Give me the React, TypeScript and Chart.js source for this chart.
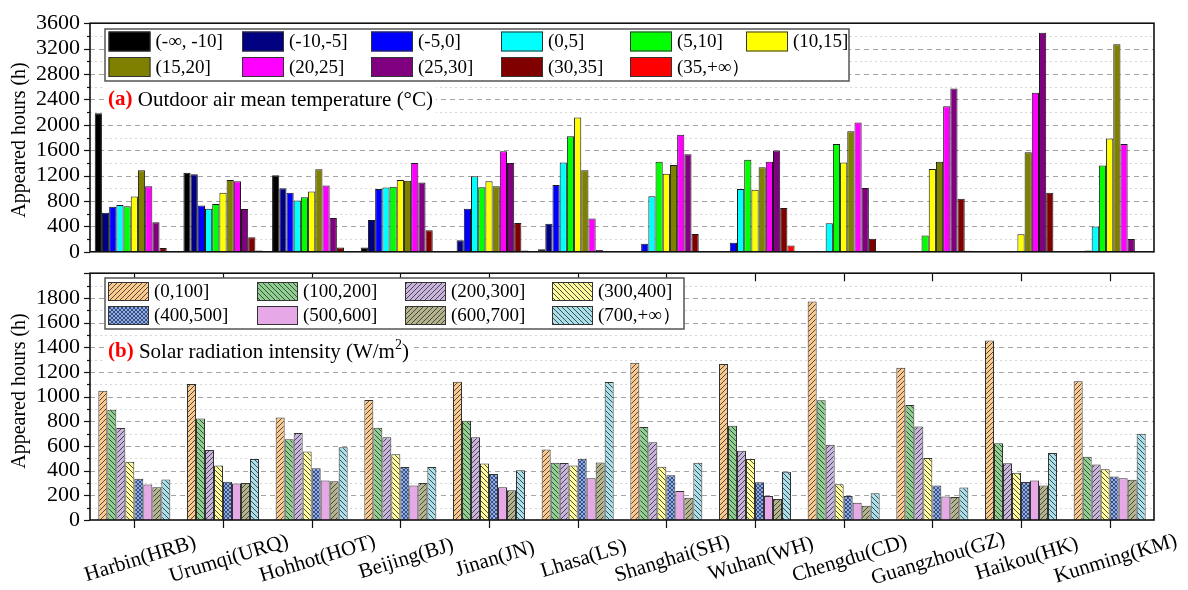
import React, { useEffect, useRef } from 'react';
import { Chart, registerables } from 'chart.js';

Chart.register(...registerables);

const SERIF = "'Liberation Serif', 'Times New Roman', serif";

// ---------------- data ----------------
const cities = [
  'Harbin(HRB)', 'Urumqi(URQ)', 'Hohhot(HOT)', 'Beijing(BJ)', 'Jinan(JN)', 'Lhasa(LS)',
  'Shanghai(SH)', 'Wuhan(WH)', 'Chengdu(CD)', 'Guangzhou(GZ)', 'Haikou(HK)', 'Kunming(KM)',
];

const tempBins = ['(-∞, -10]', '(-10,-5]', '(-5,0]', '(0,5]', '(5,10]', '(10,15]', '(15,20]', '(20,25]', '(25,30]', '(30,35]', '(35,+∞）'];
const tempColors = ['#000000', '#000080', '#0000FF', '#00FFFF', '#00FF00', '#FFFF00', '#808000', '#FF00FF', '#800080', '#800000', '#FF0000'];

const tBelowM10 = [2180, 1245, 1205, 69, 5, 39, 0, 0, 0, 0, 0, 0];
const tM10toM5 = [615, 1220, 999, 502, 182, 443, 0, 0, 0, 0, 0, 0];
const tM5to0 = [708, 728, 930, 989, 679, 1053, 128, 143, 10, 0, 0, 20];
const t0to5 = [738, 679, 807, 1013, 1191, 1407, 876, 989, 448, 0, 0, 398];
const t5to10 = [718, 753, 861, 1023, 1018, 1820, 1417, 1451, 1697, 256, 0, 1358];
const t10to15 = [871, 930, 950, 1132, 1112, 2116, 1230, 979, 1407, 1304, 276, 1786];
const t15to20 = [1284, 1132, 1299, 1117, 1033, 1284, 1368, 1333, 1899, 1417, 1569, 3267];
const t20to25 = [1033, 1112, 1043, 1397, 1584, 526, 1845, 1417, 2037, 2293, 2504, 1697];
const t25to30 = [467, 674, 531, 1092, 1397, 30, 1535, 1594, 1004, 2573, 3449, 202];
const t30to35 = [59, 231, 69, 339, 453, 0, 280, 689, 207, 836, 930, 0];
const tAbove35 = [0, 20, 0, 10, 20, 0, 10, 98, 0, 15, 0, 0];
const tempSeries = [tBelowM10, tM10toM5, tM5to0, t0to5, t5to10, t10to15, t15to20, t20to25, t25to30, t30to35, tAbove35];

const solarBins = ['(0,100]', '(100,200]', '(200,300]', '(300,400]', '(400,500]', '(500,600]', '(600,700]', '(700,+∞）'];
const solarColors = ['#FAC98B', '#8ED08E', '#C8B4DC', '#FFFA9A', '#8CAEEA', '#E6A8E6', '#B4B48C', '#A8E0EC'];
const solarHatch = ['f', 'b', 'f', 'b', 'x', 'n', 'f', 'b'];

const s0to100 = [1048, 1102, 830, 973, 1120, 572, 1275, 1265, 1770, 1234, 1454, 1125];
const s100to200 = [893, 823, 655, 748, 805, 463, 753, 763, 970, 931, 621, 512];
const s200to300 = [745, 567, 705, 670, 670, 461, 631, 561, 610, 758, 460, 450];
const s300to400 = [473, 442, 555, 533, 458, 442, 432, 494, 290, 502, 383, 411];
const s400to500 = [334, 310, 420, 429, 373, 497, 362, 305, 194, 279, 308, 352];
const s500to600 = [287, 295, 320, 279, 266, 339, 235, 194, 140, 191, 321, 339];
const s600to700 = [266, 300, 315, 300, 241, 466, 181, 171, 116, 186, 279, 326];
const s700up = [329, 494, 590, 429, 404, 1118, 463, 391, 217, 264, 543, 698];
const solarSeries = [s0to100, s100to200, s200to300, s300to400, s400to500, s500to600, s600to700, s700up];

const tempTicks = [0, 400, 800, 1200, 1600, 2000, 2400, 2800, 3200, 3600];
const solarTicks = [0, 200, 400, 600, 800, 1000, 1200, 1400, 1600, 1800];

const yTitle = 'Appeared hours (h)';

// ---------------- helpers ----------------
function makePattern(ctx: CanvasRenderingContext2D, bg: string, kind: string): any {
  if (kind === 'n') return bg;
  const s = kind === 'x' ? 4 : 5;
  const c = document.createElement('canvas');
  c.width = s;
  c.height = s;
  const g = c.getContext('2d')!;
  g.fillStyle = bg;
  g.fillRect(0, 0, s, s);
  g.strokeStyle = kind === 'x' ? '#2a3560' : '#3a3a3a';
  g.lineWidth = kind === 'x' ? 0.8 : 0.9;
  g.beginPath();
  if (kind === 'f' || kind === 'x') {
    g.moveTo(-1, s + 1); g.lineTo(s + 1, -1);
    g.moveTo(-1, 1); g.lineTo(1, -1);
    g.moveTo(s - 1, s + 1); g.lineTo(s + 1, s - 1);
  }
  if (kind === 'b' || kind === 'x') {
    g.moveTo(-1, -1); g.lineTo(s + 1, s + 1);
    g.moveTo(s - 1, -1); g.lineTo(s + 1, 1);
    g.moveTo(-1, s - 1); g.lineTo(1, s + 1);
  }
  g.stroke();
  return ctx.createPattern(c, 'repeat') || bg;
}

type LegendCfg = {
  box: [number, number, number, number];
  cols: number[];
  rows: number[];
  sw: number;
  sh: number;
  labels: string[];
  fills: any[];
};

function drawLegend(ctx: CanvasRenderingContext2D, L: LegendCfg) {
  ctx.save();
  const [bx, by, bw, bh] = L.box;
  ctx.fillStyle = '#ffffff';
  ctx.fillRect(bx, by, bw, bh);
  ctx.strokeStyle = '#555';
  ctx.lineWidth = 1.5;
  ctx.setLineDash([]);
  ctx.strokeRect(bx, by, bw, bh);
  ctx.font = `19px ${SERIF}`;
  ctx.textBaseline = 'middle';
  ctx.textAlign = 'left';
  L.labels.forEach((lab, i) => {
    const r = Math.floor(i / L.cols.length);
    const c = i % L.cols.length;
    const x = L.cols[c];
    const y = L.rows[r];
    ctx.fillStyle = L.fills[i];
    ctx.fillRect(x, y, L.sw, L.sh);
    ctx.strokeStyle = '#333';
    ctx.lineWidth = 1;
    ctx.strokeRect(x + 0.5, y + 0.5, L.sw - 1, L.sh - 1);
    ctx.fillStyle = '#000';
    ctx.fillText(lab, x + L.sw + 5, y + L.sh / 2 + 1);
  });
  ctx.restore();
}

function drawPanelTitle(ctx: CanvasRenderingContext2D, x: number, cy: number, tag: string, rest: string, sup: string, tail: string) {
  ctx.save();
  ctx.textBaseline = 'middle';
  ctx.textAlign = 'left';
  ctx.font = `bold 21px ${SERIF}`;
  const w1 = ctx.measureText(tag).width;
  ctx.font = `21px ${SERIF}`;
  const w2 = ctx.measureText(rest).width;
  ctx.font = `14px ${SERIF}`;
  const w3 = sup ? ctx.measureText(sup).width : 0;
  ctx.font = `21px ${SERIF}`;
  const w4 = tail ? ctx.measureText(tail).width : 0;
  ctx.fillStyle = '#fff';
  ctx.fillRect(x - 3, cy - 13, w1 + w2 + w3 + w4 + 6, 26);
  ctx.fillStyle = '#FF0000';
  ctx.font = `bold 21px ${SERIF}`;
  ctx.fillText(tag, x, cy);
  ctx.fillStyle = '#000';
  ctx.font = `21px ${SERIF}`;
  ctx.fillText(rest, x + w1, cy);
  if (sup) {
    ctx.font = `14px ${SERIF}`;
    ctx.fillText(sup, x + w1 + w2, cy - 7);
    ctx.font = `21px ${SERIF}`;
    ctx.fillText(tail, x + w1 + w2 + w3, cy);
  }
  ctx.restore();
}

type DecorCfg = {
  name: string;
  minor: number;
  major: number;
  max: number;
  titleY: number;
  panel: (ctx: CanvasRenderingContext2D) => void;
  legend: () => LegendCfg;
  bottomAxis: boolean;
};

function decorPlugin(cfg: DecorCfg) {
  return {
    id: 'decor_' + cfg.name,
    beforeDatasetsDraw(chart: any) {
      const { ctx, chartArea: a, scales } = chart;
      const ys = scales.y;
      ctx.save();
      ctx.lineWidth = 1;
      for (let v = cfg.minor; v < cfg.max; v += cfg.minor) {
        const py = Math.round(ys.getPixelForValue(v)) + 0.5;
        const isMajor = v % cfg.major === 0;
        ctx.strokeStyle = isMajor ? '#a4a4a4' : '#d6d6d6';
        ctx.setLineDash(isMajor ? [5, 4] : [2, 3]);
        ctx.beginPath();
        ctx.moveTo(a.left, py);
        ctx.lineTo(a.right, py);
        ctx.stroke();
      }
      ctx.restore();
    },
    afterDraw(chart: any) {
      const { ctx, chartArea: a, scales } = chart;
      const ys = scales.y;
      const xs = scales.x;
      ctx.save();
      // y tick marks
      ctx.strokeStyle = '#111';
      ctx.lineWidth = 1.2;
      ctx.setLineDash([]);
      for (let v = 0; v <= cfg.max; v += cfg.minor) {
        const py = Math.round(ys.getPixelForValue(v)) + 0.5;
        const len = v % cfg.major === 0 ? 6 : 3;
        ctx.beginPath();
        ctx.moveTo(a.left - len, py);
        ctx.lineTo(a.left, py);
        ctx.stroke();
      }
      // x tick marks + category labels
      if (cfg.bottomAxis) {
        for (let i = 0; i < cities.length; i++) {
          const px = Math.round(xs.getPixelForValue(i)) + 0.5;
          ctx.beginPath();
          ctx.moveTo(px, a.top);
          ctx.lineTo(px, a.top + 8);
          ctx.moveTo(px, a.bottom);
          ctx.lineTo(px, a.bottom + 8);
          ctx.stroke();
        }
        ctx.fillStyle = '#000';
        ctx.font = `21px ${SERIF}`;
        ctx.textAlign = 'center';
        ctx.textBaseline = 'middle';
        cities.forEach((c, i) => {
          const px = xs.getPixelForValue(i);
          ctx.save();
          ctx.translate(px + 6, a.bottom + 39);
          ctx.rotate((-17 * Math.PI) / 180);
          ctx.fillText(c, 0, 0);
          ctx.restore();
        });
      }
      // frame
      ctx.strokeStyle = '#111';
      ctx.lineWidth = 1.6;
      ctx.strokeRect(a.left, a.top, a.right - a.left, a.bottom - a.top);
      // axis title
      ctx.fillStyle = '#000';
      ctx.font = `20px ${SERIF}`;
      ctx.textAlign = 'center';
      ctx.textBaseline = 'middle';
      ctx.save();
      ctx.translate(20, cfg.titleY);
      ctx.rotate(-Math.PI / 2);
      ctx.fillText(yTitle, 0, 0);
      ctx.restore();
      ctx.restore();
      cfg.panel(ctx);
      drawLegend(ctx, cfg.legend());
    },
  };
}

export default function App() {
  const topRef = useRef<HTMLCanvasElement>(null);
  const botRef = useRef<HTMLCanvasElement>(null);

  useEffect(() => {
    Chart.defaults.font.family = SERIF;
    const tickFont = { family: SERIF, size: 22 };
    const plainNum = (v: any) => String(v);

    const top = new Chart(topRef.current!, {
      type: 'bar',
      data: {
        labels: cities,
        datasets: tempSeries.map((d, i) => ({
          label: tempBins[i],
          data: d,
          backgroundColor: tempColors[i],
          borderColor: '#1a1a1a',
          borderWidth: 1,
          barPercentage: 1,
          categoryPercentage: 0.893,
        })),
      },
      options: {
        responsive: false,
        maintainAspectRatio: false,
        animation: false,
        devicePixelRatio: 1,
        events: [],
        layout: { padding: { top: 18, right: 34, left: 0, bottom: 0 } },
        plugins: { legend: { display: false }, tooltip: { enabled: false } },
        scales: {
          x: {
            ticks: { display: false },
            grid: { display: false, drawTicks: false },
            border: { display: false },
            afterFit: (s: any) => { s.height = 13; },
          },
          y: {
            min: 0,
            max: 3600,
            afterBuildTicks: (s: any) => { s.ticks = tempTicks.map((v) => ({ value: v })); },
            ticks: { autoSkip: false, padding: 10, font: tickFont, color: '#000', callback: plainNum },
            grid: { display: false, drawTicks: false },
            border: { display: false },
            afterFit: (s: any) => { s.width = 90; },
          },
        },
      } as any,
      plugins: [
        decorPlugin({
          name: 'top',
          minor: 200,
          major: 400,
          max: 3600,
          titleY: 140,
          bottomAxis: false,
          panel: (ctx) => drawPanelTitle(ctx, 108, 100, '(a)', ' Outdoor air mean temperature (°C)', '', ''),
          legend: () => ({
            box: [105, 29, 744, 52],
            cols: [108.5, 242, 371, 501, 630, 746],
            rows: [31.5, 57],
            sw: 42,
            sh: 20,
            labels: tempBins,
            fills: tempColors,
          }),
        }) as any,
      ],
    });

    const bctx = botRef.current!.getContext('2d')!;
    const fills = solarColors.map((c, i) => makePattern(bctx, c, solarHatch[i]));

    const bot = new Chart(botRef.current!, {
      type: 'bar',
      data: {
        labels: cities,
        datasets: solarSeries.map((d, i) => ({
          label: solarBins[i],
          data: d,
          backgroundColor: fills[i],
          borderColor: '#333',
          borderWidth: 1,
          barPercentage: 1,
          categoryPercentage: 0.812,
        })),
      },
      options: {
        responsive: false,
        maintainAspectRatio: false,
        animation: false,
        devicePixelRatio: 1,
        events: [],
        layout: { padding: { top: 12, right: 34, left: 0, bottom: 0 } },
        plugins: { legend: { display: false }, tooltip: { enabled: false } },
        scales: {
          x: {
            ticks: { display: false },
            grid: { display: false, drawTicks: false },
            border: { display: false },
            afterFit: (s: any) => { s.height = 70; },
          },
          y: {
            min: 0,
            max: 2000,
            afterBuildTicks: (s: any) => { s.ticks = solarTicks.map((v) => ({ value: v })); },
            ticks: { autoSkip: false, padding: 10, font: tickFont, color: '#000', callback: plainNum },
            grid: { display: false, drawTicks: false },
            border: { display: false },
            afterFit: (s: any) => { s.width = 90; },
          },
        },
      } as any,
      plugins: [
        decorPlugin({
          name: 'bot',
          minor: 100,
          major: 200,
          max: 2000,
          titleY: 141,
          bottomAxis: true,
          panel: (ctx) => drawPanelTitle(ctx, 108, 102, '(b)', ' Solar radiation intensity (W/m', '2', ')'),
          legend: () => ({
            box: [105, 28, 579, 51],
            cols: [108, 257, 405, 552],
            rows: [32, 56],
            sw: 41,
            sh: 19,
            labels: solarBins,
            fills,
          }),
        }) as any,
      ],
    });

    return () => {
      top.destroy();
      bot.destroy();
    };
  }, []);

  return (
    <div style={{ position: 'absolute', left: 0, top: 0, width: 1188, height: 590, background: '#fff', overflow: 'hidden' }}>
      <canvas ref={topRef} width={1188} height={275} style={{ position: 'absolute', left: 0, top: 0, width: 1188, height: 275 }} />
      <canvas ref={botRef} width={1188} height={340} style={{ position: 'absolute', left: 0, top: 250, width: 1188, height: 340 }} />
    </div>
  );
}
